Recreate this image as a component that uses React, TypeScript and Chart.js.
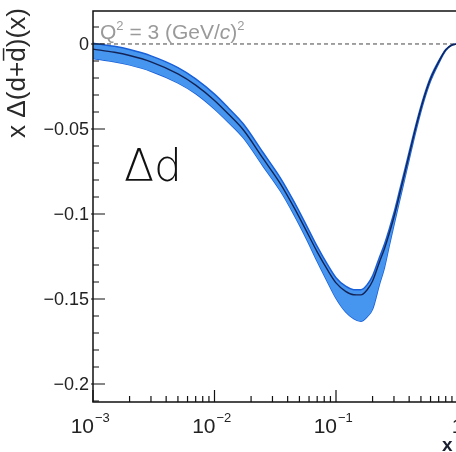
import { useEffect, useRef } from 'react';
import { Chart, registerables } from 'chart.js';

Chart.register(...registerables);

// ---- data ----
const xValues = [0.001, 0.0015, 0.002, 0.003, 0.005, 0.007, 0.01, 0.013, 0.0173, 0.025, 0.035, 0.045, 0.058, 0.07, 0.085, 0.1, 0.12, 0.14, 0.16, 0.18, 0.2, 0.228, 0.25, 0.275, 0.3, 0.333, 0.365, 0.4, 0.46, 0.53, 0.6, 0.7, 0.8, 0.9, 1.0];
const centralValues = [-0.003, -0.0049, -0.0068, -0.0105, -0.0176, -0.0242, -0.0332, -0.0412, -0.0506, -0.0672, -0.0824, -0.096, -0.111, -0.1223, -0.1328, -0.1405, -0.1455, -0.1475, -0.1476, -0.1447, -0.1394, -0.1282, -0.1206, -0.1112, -0.1018, -0.0888, -0.0771, -0.0653, -0.0476, -0.0318, -0.0206, -0.0106, -0.0035, -0.0006, 0];
const upperValues = [0.0005, -0.0014, -0.0033, -0.007, -0.0139, -0.0205, -0.0295, -0.0376, -0.0471, -0.0637, -0.079, -0.0926, -0.1077, -0.1191, -0.1297, -0.1375, -0.1425, -0.1445, -0.1446, -0.1417, -0.1364, -0.1254, -0.1179, -0.1086, -0.0993, -0.0865, -0.0751, -0.0635, -0.0461, -0.0306, -0.0196, -0.01, -0.0032, -0.0005, 0];
const lowerValues = [-0.0085, -0.0104, -0.0123, -0.016, -0.0229, -0.0292, -0.0382, -0.046, -0.0552, -0.0716, -0.0866, -0.1002, -0.1155, -0.1278, -0.1398, -0.1495, -0.1575, -0.1615, -0.1631, -0.1605, -0.1559, -0.1412, -0.1316, -0.1182, -0.1063, -0.0923, -0.0801, -0.0678, -0.0496, -0.0333, -0.0218, -0.0114, -0.0039, -0.0007, 0];

const yTickValues = [0, -0.05, -0.1, -0.15, -0.2];
const yTickLabels = ['0', '\u22120.05', '\u22120.1', '\u22120.15', '\u22120.2'];
const yMinorTicks = [0.01, -0.01, -0.02, -0.03, -0.04, -0.06, -0.07, -0.08, -0.09, -0.11, -0.12, -0.13, -0.14, -0.16, -0.17, -0.18, -0.19, -0.21];
const xTickValues = [0.001, 0.01, 0.1, 1];
const xTickBases = ['10', '10', '10', '1'];
const xTickExponents = ['\u22123', '\u22122', '\u22121', ''];
const xMinorMultipliers = [2, 3, 4, 5, 6, 7, 8, 9];
const xDecades = [0.001, 0.01, 0.1];

const yTitlePre = 'x \u0394(d+';
const yTitleBar = 'd';
const yTitlePost = ')(x)';
const xTitle = 'x';
const flavourLabel = '\u0394d';

const FONT = '"Liberation Sans", Arial, sans-serif';

const toPoints = (ys: number[]) => xValues.map((x, i) => ({ x, y: ys[i] }));

const decor = {
  id: 'decor',
  beforeDatasetsDraw(chart: any) {
    const { ctx, chartArea, scales } = chart;
    const y0 = scales.y.getPixelForValue(0);
    ctx.save();
    ctx.strokeStyle = '#444';
    ctx.lineWidth = 1;
    ctx.setLineDash([4, 3]);
    ctx.beginPath();
    ctx.moveTo(chartArea.left, y0);
    ctx.lineTo(chartArea.right, y0);
    ctx.stroke();
    ctx.restore();
  },
  afterDatasetsDraw(chart: any) {
    const { ctx, chartArea, scales } = chart;
    const { left, right, top, bottom } = chartArea;
    const xs = scales.x;
    const ys = scales.y;
    ctx.save();
    // frame
    ctx.strokeStyle = '#111';
    ctx.lineWidth = 1.5;
    ctx.beginPath();
    ctx.moveTo(left, top);
    ctx.lineTo(right, top);
    ctx.lineTo(right, bottom);
    ctx.lineTo(left, bottom);
    ctx.closePath();
    ctx.stroke();

    // y ticks (inside)
    ctx.lineWidth = 1.2;
    ctx.beginPath();
    yTickValues.forEach((v) => {
      const p = ys.getPixelForValue(v);
      ctx.moveTo(left - 2, p);
      ctx.lineTo(left + 12, p);
    });
    yMinorTicks.forEach((v) => {
      const p = ys.getPixelForValue(v);
      if (p < top || p > bottom) return;
      ctx.moveTo(left, p);
      ctx.lineTo(left + 6, p);
    });
    // x ticks (inside)
    xTickValues.forEach((v) => {
      const p = xs.getPixelForValue(v);
      ctx.moveTo(p, bottom);
      ctx.lineTo(p, bottom - 12);
    });
    xDecades.forEach((d) => {
      xMinorMultipliers.forEach((m) => {
        const p = xs.getPixelForValue(d * m);
        ctx.moveTo(p, bottom);
        ctx.lineTo(p, bottom - 6);
      });
    });
    ctx.stroke();

    // y tick labels
    ctx.fillStyle = '#222';
    ctx.font = `18px ${FONT}`;
    ctx.textAlign = 'right';
    ctx.textBaseline = 'middle';
    yTickValues.forEach((v, i) => {
      ctx.fillText(yTickLabels[i], left - 4, ys.getPixelForValue(v) + 1);
    });

    // x tick labels
    ctx.textBaseline = 'alphabetic';
    ctx.textAlign = 'left';
    xTickValues.forEach((v, i) => {
      const p = xs.getPixelForValue(v);
      ctx.font = `21px ${FONT}`;
      const wb = ctx.measureText(xTickBases[i]).width;
      if (!xTickExponents[i]) {
        ctx.fillText(xTickBases[i], p - wb / 2, 433);
        return;
      }
      const sx = p - wb + 1;
      ctx.fillText(xTickBases[i], sx, 433);
      ctx.font = `13px ${FONT}`;
      ctx.fillText(xTickExponents[i], sx + wb + 1, 422);
    });

    // x axis title
    ctx.fillStyle = '#1a2030';
    ctx.font = `bold 19px ${FONT}`;
    ctx.fillText(xTitle, 442, 451);

    // y axis title (rotated)
    ctx.save();
    ctx.translate(25, 138);
    ctx.rotate(-Math.PI / 2);
    ctx.fillStyle = '#2a2a2a';
    let fs = 22;
    ctx.font = `${fs}px ${FONT}`;
    const total = ctx.measureText(yTitlePre + yTitleBar + yTitlePost).width;
    fs = (fs * 130) / total;
    ctx.font = `${fs}px ${FONT}`;
    const w1 = ctx.measureText(yTitlePre).width;
    const wd = ctx.measureText(yTitleBar).width;
    ctx.fillText(yTitlePre, 0, 0);
    ctx.fillText(yTitleBar, w1, 0);
    ctx.fillText(yTitlePost, w1 + wd, 0);
    ctx.strokeStyle = '#2a2a2a';
    ctx.lineWidth = 1.5;
    ctx.beginPath();
    ctx.moveTo(w1 + 1, -fs * 0.82);
    ctx.lineTo(w1 + wd - 1, -fs * 0.82);
    ctx.stroke();
    ctx.restore();

    // Q^2 label
    ctx.fillStyle = '#9a9a9a';
    let cx = 100;
    const base = 39;
    const part = (t: string, font: string, dy: number) => {
      ctx.font = font;
      ctx.fillText(t, cx, base + dy);
      cx += ctx.measureText(t).width;
    };
    part('Q', `21px ${FONT}`, 0);
    part('2', `13px ${FONT}`, -9);
    part(' = 3 (GeV/', `21px ${FONT}`, 0);
    part('c', `italic 21px ${FONT}`, 0);
    part(')', `21px ${FONT}`, 0);
    part('2', `13px ${FONT}`, -9);

    // flavour label
    ctx.fillStyle = '#111';
    ctx.font = '200 44px "DejaVu Sans", sans-serif';
    ctx.fillText(flavourLabel, 124, 181);

    ctx.restore();
  },
};

export default function App() {
  const ref = useRef<HTMLCanvasElement | null>(null);
  useEffect(() => {
    if (!ref.current) return;
    const chart = new Chart(ref.current, {
      type: 'line',
      data: {
        datasets: [
          {
            label: 'lower',
            data: toPoints(lowerValues),
            borderColor: 'rgb(25,95,215)',
            borderWidth: 1.5,
            pointRadius: 0,
            fill: false,
            cubicInterpolationMode: 'monotone',
            order: 2,
          },
          {
            label: 'upper',
            data: toPoints(upperValues),
            borderColor: 'rgb(25,95,215)',
            backgroundColor: 'rgb(70,150,240)',
            borderWidth: 1.5,
            pointRadius: 0,
            fill: '-1',
            cubicInterpolationMode: 'monotone',
            order: 1,
          },
          {
            label: 'central',
            data: toPoints(centralValues),
            borderColor: 'rgb(20,35,85)',
            borderWidth: 1.4,
            pointRadius: 0,
            fill: false,
            cubicInterpolationMode: 'monotone',
            order: 0,
          },
        ],
      },
      options: {
        responsive: false,
        animation: false,
        devicePixelRatio: 1,
        layout: { padding: { top: 11, right: 22.5, left: 0, bottom: 0 } },
        plugins: { legend: { display: false }, tooltip: { enabled: false } },
        events: [],
        scales: {
          x: {
            type: 'logarithmic',
            min: 0.001,
            max: 1,
            ticks: { display: false },
            grid: { display: false },
            border: { display: false },
            afterFit: (s: any) => {
              s.height = 50;
            },
          },
          y: {
            type: 'linear',
            min: -0.2106,
            max: 0.0194,
            ticks: { display: false },
            grid: { display: false },
            border: { display: false },
            afterFit: (s: any) => {
              s.width = 93;
            },
          },
        },
      } as any,
      plugins: [decor],
    });
    return () => chart.destroy();
  }, []);
  return (
    <div style={{ position: 'fixed', left: 0, top: 0, width: 456, height: 452, overflow: 'hidden', background: '#fff' }}>
      <canvas ref={ref} width={480} height={452} style={{ display: 'block', width: 480, height: 452 }} />
    </div>
  );
}
